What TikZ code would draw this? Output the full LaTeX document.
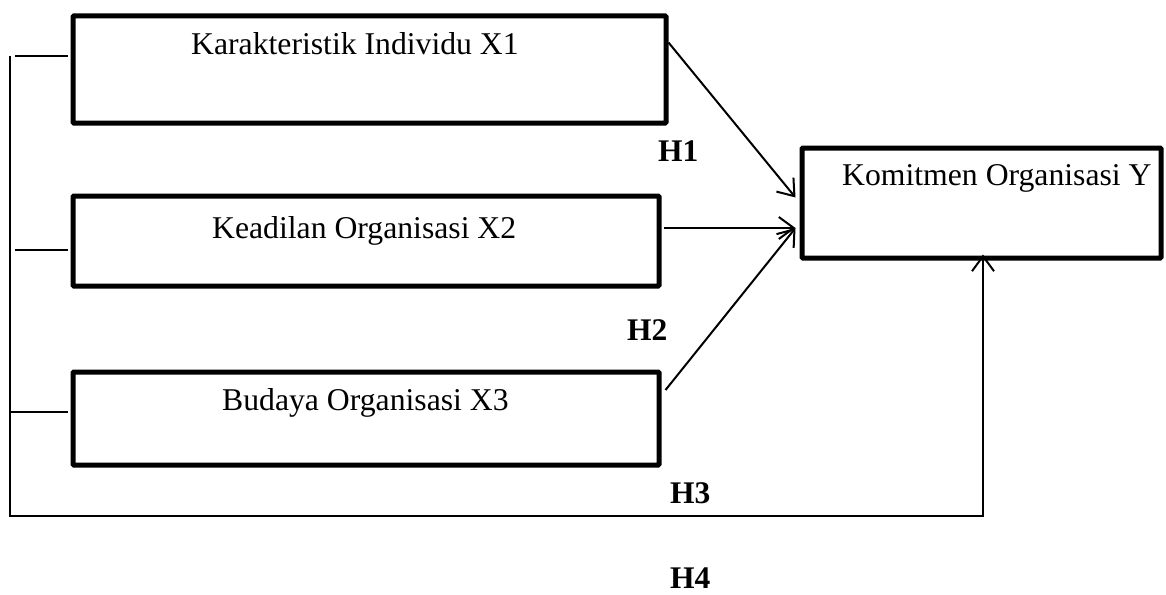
\documentclass[tikz,border=0pt]{standalone}
\usepackage{fontspec}
\setmainfont{Liberation Serif}
\usetikzlibrary{arrows.meta,calc}
\begin{document}
\begin{tikzpicture}[x=1pt,y=-1pt,
  box/.style={draw=black,line width=5pt,minimum width=#1,inner sep=0pt,rounded corners=1pt},
  lbl/.style={anchor=base west,inner sep=0pt,font=\fontsize{31.7}{36}\selectfont},
  hyp/.style={anchor=base west,inner sep=0pt,font=\fontsize{31.5}{36}\selectfont\bfseries},
  conn/.style={draw=black,line width=2pt},
  arr/.style={conn,-{Straight Barb[length=15pt,width=22pt,line width=2pt]}}
]
\useasboundingbox (0,0) rectangle (1166,594);
% boxes
\node[box=593pt,minimum height=107pt] (x1) at (369.5,69.5) {};
\node[box=586pt,minimum height=90pt] (x2) at (366,241) {};
\node[box=586pt,minimum height=93pt] (x3) at (366,418.5) {};
\node[box=359pt,minimum height=110pt] (y) at (981.5,203) {};
% box texts
\node[lbl] (t1) at (191,55) {Karakteristik Individu X1};
\node[lbl] (t2) at (212,238) {Keadilan Organisasi X2};
\node[lbl] (t3) at (222,410) {Budaya Organisasi X3};
\node[lbl] (ty) at (842,185) {Komitmen Organisasi Y};
% hypothesis labels
\node[hyp] (h1) at (658,161) {H1};
\node[hyp] (h2) at (627,340) {H2};
\node[hyp] (h3) at (670,503) {H3};
\node[hyp] (h4) at (670,588) {H4};
% arrows to Y
\draw[arr] ([yshift=-29pt]x1.north east) -- ([xshift=-4pt,yshift=-52pt]y.north west);
\draw[arr] ([xshift=2pt,yshift=13pt]x2.east) -- ([xshift=-4pt,yshift=-25pt]y.west);
\draw[arr] ([xshift=4pt,yshift=28.5pt]x3.east) -- ([xshift=-4pt,yshift=-25pt]y.west);
% left bracket and bottom line
\coordinate (lt) at (10,56);
\coordinate (lb) at (10,516);
\coordinate (k1) at (15,56);
\coordinate (k2) at (15,250);
\coordinate (k3) at (10,412);
\draw[conn] (k1) -- ([xshift=-2.5pt,yshift=13.5pt]x1.west);
\draw[conn] (k2) -- ([xshift=-2.5pt,yshift=-9pt]x2.west);
\draw[conn] (k3) -- ([xshift=-2.5pt,yshift=6.5pt]x3.west);
\draw[arr] (lt) -- (lb) -| ([xshift=1.5pt,yshift=6pt]y.south);
\end{tikzpicture}
\end{document}
